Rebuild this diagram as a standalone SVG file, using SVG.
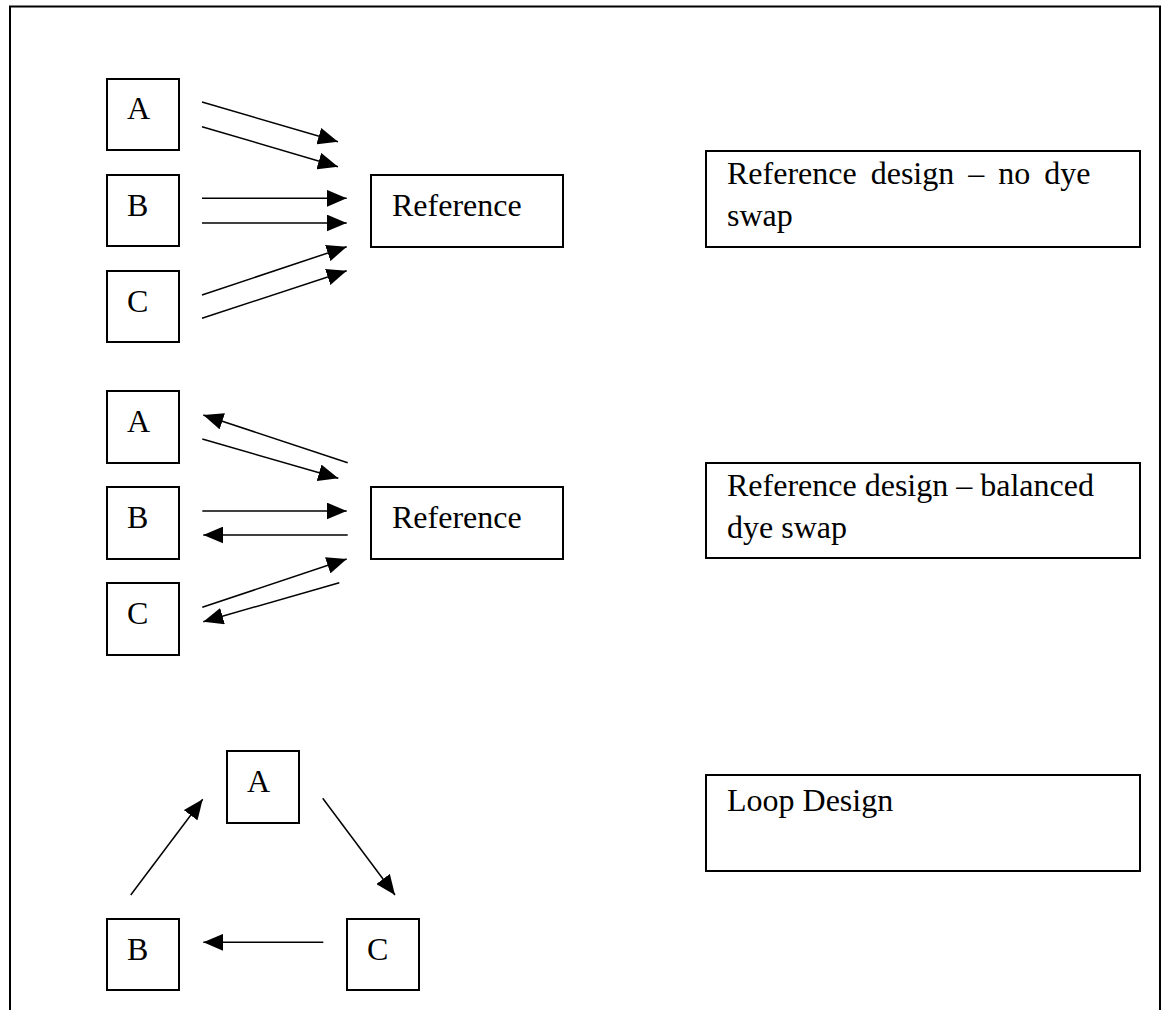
<svg xmlns="http://www.w3.org/2000/svg" width="1165" height="1010" viewBox="0 0 1165 1010">
<style>
.box{fill:#fff;stroke:#000;stroke-width:2}
.lbl{font-family:"Liberation Serif","Times New Roman",serif;font-size:32px;fill:#000}
.cap{font-family:"Liberation Serif","Times New Roman",serif;font-size:32px;fill:#000}
.edge{stroke:#000;stroke-width:1.5;fill:none;marker-end:url(#ah)}
</style>
<defs>
<marker id="ah" markerUnits="userSpaceOnUse" markerWidth="21" markerHeight="17" refX="20" refY="8.5" orient="auto">
<path d="M0,0 L20,8.5 L0,17 z" fill="#000"/>
</marker>
</defs>
<rect width="1165" height="1010" fill="#fff"/>
<path d="M10,1012 V6.5 H1160 V1012" fill="none" stroke="#000" stroke-width="2"/>

<g id="s1-A"><rect class="box" x="107" y="79" width="72" height="71"/><text class="lbl" x="127" y="119">A</text></g>
<g id="s1-B"><rect class="box" x="107" y="175" width="72" height="71"/><text class="lbl" x="127" y="216">B</text></g>
<g id="s1-C"><rect class="box" x="107" y="271" width="72" height="71"/><text class="lbl" x="127" y="312">C</text></g>
<g id="s1-Ref"><rect class="box" x="371" y="175" width="192" height="72"/><text class="lbl" x="392" y="216">Reference</text></g>

<g id="s2-A"><rect class="box" x="107" y="391" width="72" height="72"/><text class="lbl" x="127" y="432">A</text></g>
<g id="s2-B"><rect class="box" x="107" y="487" width="72" height="72"/><text class="lbl" x="127" y="528">B</text></g>
<g id="s2-C"><rect class="box" x="107" y="583" width="72" height="72"/><text class="lbl" x="127" y="624">C</text></g>
<g id="s2-Ref"><rect class="box" x="371" y="487" width="192" height="72"/><text class="lbl" x="392" y="528">Reference</text></g>

<g id="s3-A"><rect class="box" x="227" y="751" width="72" height="72"/><text class="lbl" x="247" y="792">A</text></g>
<g id="s3-B"><rect class="box" x="107" y="919" width="72" height="71"/><text class="lbl" x="127" y="960">B</text></g>
<g id="s3-C"><rect class="box" x="347" y="919" width="72" height="71"/><text class="lbl" x="367" y="960">C</text></g>

<g id="cap1"><rect class="box" x="706" y="151" width="434" height="96"/><text class="cap" x="727" y="184" word-spacing="6">Reference design – no dye</text><text class="cap" x="727" y="226">swap</text></g>
<g id="cap2"><rect class="box" x="706" y="463" width="434" height="95"/><text class="cap" x="727" y="496">Reference design – balanced</text><text class="cap" x="727" y="538">dye swap</text></g>
<g id="cap3"><rect class="box" x="706" y="775" width="434" height="96"/><text class="cap" x="727" y="811">Loop Design</text></g>

<g id="connectors">
<line class="edge" x1="202" y1="102" x2="338" y2="141.7"/>
<line class="edge" x1="202" y1="126.7" x2="338" y2="166.7"/>
<line class="edge" x1="202" y1="198.3" x2="346.7" y2="198.3"/>
<line class="edge" x1="202" y1="223" x2="346.7" y2="223"/>
<line class="edge" x1="202" y1="295" x2="346.7" y2="246.7"/>
<line class="edge" x1="202" y1="318.3" x2="346.7" y2="270.7"/>

<line class="edge" x1="347.7" y1="462.7" x2="203.3" y2="415"/>
<line class="edge" x1="202.3" y1="439" x2="338.3" y2="478.3"/>
<line class="edge" x1="202.3" y1="511" x2="346.7" y2="511"/>
<line class="edge" x1="347.7" y1="535" x2="203.3" y2="535"/>
<line class="edge" x1="202.3" y1="607.3" x2="346.7" y2="559"/>
<line class="edge" x1="339.3" y1="582.7" x2="203.3" y2="621.7"/>

<line class="edge" x1="130.7" y1="895" x2="202.7" y2="799.3"/>
<line class="edge" x1="322.7" y1="798.3" x2="395" y2="895"/>
<line class="edge" x1="323.3" y1="942.3" x2="203.3" y2="942.3"/>
</g>
</svg>
